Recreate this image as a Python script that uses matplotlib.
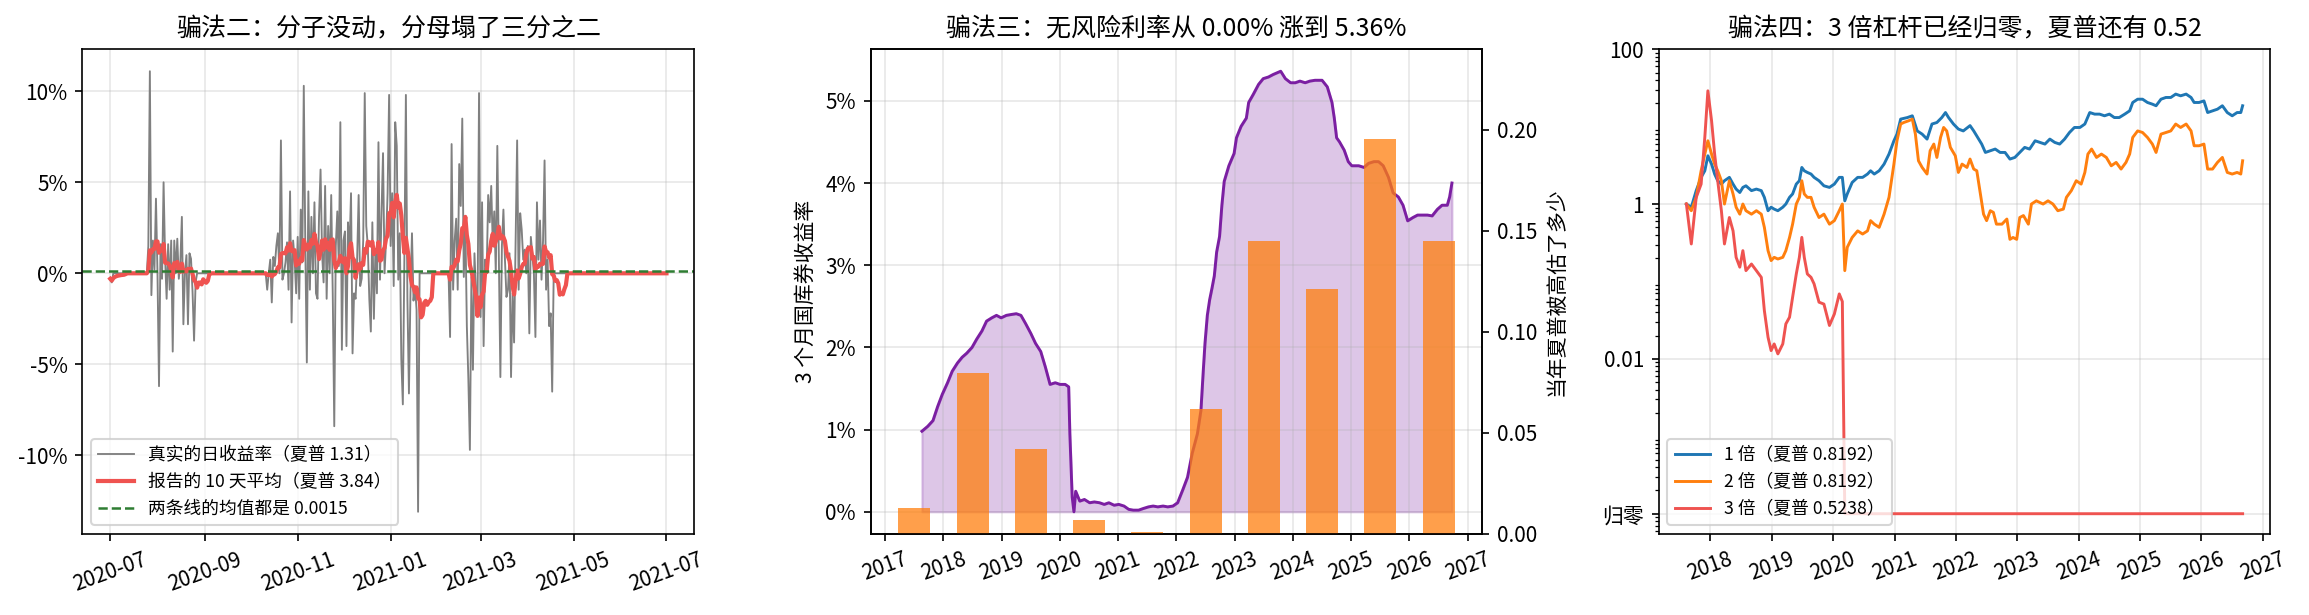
import matplotlib
matplotlib.use('Agg')
import matplotlib.pyplot as plt
import matplotlib.dates as mdates
import numpy as np
import pandas as pd
from matplotlib.ticker import FuncFormatter, MultipleLocator

plt.rcParams['font.family'] = ['Noto Sans CJK SC', 'DejaVu Sans']
plt.rcParams['axes.unicode_minus'] = False

# ---------- panel 1: daily returns (%), zero on idle days ----------
ret_first_day = '2020-07-01'
ret_last_day = '2021-07-01'
ret_start_blip = [-0.3, -0.5]
seg_a_start = '2020-07-26'
seg_a = [1.5, 11.1, -1.2, 1.8, 0.2, 4.1, 0.0, -6.2, 1.6, -0.3, 5.0, 0.8, -1.4, 1.6, -0.9, 1.8,
         -4.3, 1.8, 0.0, 1.9, -0.3, 0.6, 3.1, -2.8, 0.0, 1.0, -2.8, 1.1, 0.8, -1.0, -3.7, -0.5]
seg_b_start = '2020-10-12'
seg_b = [-0.9, 0.0, 0.75, -1.6, 0.9, 0.4, 1.5, 2.2, 0.0, 7.3, -0.35, 0.0, 0.6, 1.7, -0.9, 4.5,
         -2.7, 1.8, 0.75, -1.1, 2.0, -1.4, 3.5, 0.6, 10.3, 1.5, -4.9, 4.5, -0.9, 3.1, 0.0, 3.9,
         -1.1, -1.4, 3.1, 5.7, 1.1, -0.5, 4.8, -1.4, 2.6, 0.0, 4.3, -1.1, -8.4, 1.5, 3.4, 0.4,
         8.3, -4.2, 1.8, 2.3, -4.0, 2.8, 1.3, 4.4, -4.4, -1.1, -1.4, 0.75, 4.3, -0.7, -0.3, 1.8,
         9.9, 2.6, 1.5, -1.4, -3.2, 2.8, -2.5, 1.3, -1.1, 7.2, -0.35, 3.3, 6.6, 0.0, 1.8, 4.4,
         9.8, 1.5, 4.4, -0.7, 8.3, 7.0, -0.35, 2.2, -4.7, -7.2, 0.75, 9.8, -1.4, -6.6, -1.1, 2.2,
         -1.5, -0.7, -2.0, -13.1]
seg_c_start = '2021-02-09'
seg_c = [-3.5, 7.1, -0.9, 1.8, 3.0, -0.9, 6.0, 3.7, 8.5, -0.2, 2.9, -2.9, -5.8, -9.7, -0.2, -5.3,
         1.1, -1.1, -2.2, 9.9, -2.4, 3.9, -4.0, 0.75, 0.0, 4.3, 2.8, 4.8, 1.6, 3.4, 0.0, 7.0,
         0.9, -5.7, 1.5, 3.5, 0.75, -1.3, -0.9, 1.1, -5.7, -1.1, -3.8, 1.7, 7.3, -0.9, 3.3, 2.4,
         0.75, 1.3, 0.0, 1.5, -3.3, 2.0, 1.0, 0.0, -3.5, 3.9, 0.75, 2.9, -0.35, 1.8, 6.2, -0.9,
         0.75, -2.9, -2.2, -6.5]
mean_ret_pct = 0.15
smooth_window = 10

# ---------- panel 2: 3m T-bill yield (%) and yearly Sharpe overstatement ----------
tbill_year = [2017.63, 2017.73, 2017.82, 2017.90, 2017.98, 2018.07, 2018.15, 2018.24, 2018.32, 2018.40,
              2018.49, 2018.57, 2018.66, 2018.74, 2018.83, 2018.91, 2018.99, 2019.08, 2019.16, 2019.25,
              2019.33, 2019.41, 2019.50, 2019.58, 2019.67, 2019.75, 2019.83, 2019.92, 2020.00, 2020.09,
              2020.15, 2020.17, 2020.21, 2020.24, 2020.27, 2020.34, 2020.42, 2020.51, 2020.59, 2020.68,
              2020.76, 2020.84, 2020.93, 2021.01, 2021.10, 2021.18, 2021.26, 2021.35, 2021.43, 2021.52,
              2021.60, 2021.68, 2021.77, 2021.85, 2021.94, 2022.02, 2022.11, 2022.19, 2022.27, 2022.36,
              2022.42, 2022.46, 2022.49, 2022.53, 2022.57, 2022.61, 2022.65, 2022.69, 2022.74, 2022.78,
              2022.82, 2022.90, 2022.99, 2023.03, 2023.11, 2023.20, 2023.24, 2023.32, 2023.41, 2023.49,
              2023.58, 2023.66, 2023.79, 2023.87, 2023.96, 2024.04, 2024.12, 2024.21, 2024.29, 2024.38,
              2024.50, 2024.59, 2024.67, 2024.71, 2024.75, 2024.80, 2024.88, 2024.95, 2025.01, 2025.13,
              2025.22, 2025.30, 2025.39, 2025.47, 2025.55, 2025.64, 2025.72, 2025.81, 2025.89, 2025.97,
              2026.06, 2026.14, 2026.23, 2026.31, 2026.39, 2026.48, 2026.56, 2026.65, 2026.69, 2026.73]
tbill_pct = [0.98, 1.04, 1.11, 1.28, 1.43, 1.57, 1.71, 1.81, 1.88, 1.93,
             2.00, 2.10, 2.20, 2.32, 2.36, 2.39, 2.36, 2.39, 2.40, 2.41,
             2.39, 2.29, 2.17, 2.05, 1.95, 1.76, 1.55, 1.57, 1.55, 1.55,
             1.52, 0.95, 0.18, 0.00, 0.25, 0.13, 0.15, 0.11, 0.12, 0.11,
             0.09, 0.11, 0.08, 0.09, 0.07, 0.03, 0.02, 0.02, 0.04, 0.06,
             0.07, 0.06, 0.07, 0.06, 0.07, 0.11, 0.27, 0.42, 0.71, 0.95,
             1.23, 1.71, 2.05, 2.39, 2.58, 2.72, 2.87, 3.16, 3.35, 3.73,
             4.02, 4.21, 4.36, 4.55, 4.69, 4.79, 4.98, 5.08, 5.20, 5.27,
             5.29, 5.32, 5.36, 5.27, 5.22, 5.22, 5.24, 5.22, 5.24, 5.25,
             5.25, 5.17, 4.98, 4.79, 4.55, 4.50, 4.40, 4.26, 4.21, 4.21,
             4.19, 4.24, 4.26, 4.26, 4.21, 4.07, 3.88, 3.83, 3.73, 3.54,
             3.58, 3.61, 3.61, 3.61, 3.60, 3.68, 3.73, 3.73, 3.83, 4.00]
bar_years = [2017, 2018, 2019, 2020, 2021, 2022, 2023, 2024, 2025, 2026]
sharpe_overstated = [0.0126, 0.0795, 0.0418, 0.0070, 0.0008, 0.0620, 0.1448, 0.1213, 0.1955, 0.1448]

# ---------- panel 3: leveraged wealth (log scale) ----------
lev_year_a = [2017.61, 2017.69, 2017.77, 2017.85, 2017.91, 2017.96, 2018.02, 2018.07, 2018.12, 2018.18,
              2018.23, 2018.31, 2018.37, 2018.42, 2018.48, 2018.53, 2018.58, 2018.67, 2018.75, 2018.83,
              2018.88, 2018.94, 2018.99, 2019.04, 2019.10, 2019.18, 2019.23, 2019.29, 2019.34, 2019.40,
              2019.45, 2019.49, 2019.53, 2019.58, 2019.64, 2019.69, 2019.77, 2019.85, 2019.94, 2020.02,
              2020.10, 2020.15, 2020.19, 2020.23, 2020.31, 2020.40, 2020.48, 2020.56, 2020.61, 2020.67,
              2020.75, 2020.83, 2020.91, 2020.99, 2021.04]
lev1_a = [1.00, 0.91, 1.49, 2.21, 2.69, 4.2, 3.28, 2.44, 2.0, 1.81,
          2.0, 2.21, 1.81, 1.56, 1.41, 1.64, 1.72, 1.49, 1.56, 1.49,
          1.22, 0.82, 0.91, 0.86, 0.82, 0.91, 1.0, 1.22, 1.35, 1.81,
          2.0, 2.97, 2.69, 2.56, 2.44, 2.21, 2.0, 1.72, 1.64, 1.81,
          2.21, 2.21, 1.10, 1.35, 1.90, 2.21, 2.21, 2.44, 2.69, 2.44,
          2.69, 3.28, 4.42, 6.56, 8.0]
lev2_a = [1.0, 0.82, 1.22, 2.69, 4.42, 6.56, 4.42, 3.28, 2.69, 2.0,
          1.0, 2.0, 1.35, 0.91, 0.74, 1.0, 0.82, 0.74, 0.82, 0.74,
          0.50, 0.25, 0.186, 0.205, 0.195, 0.205, 0.25, 0.37, 0.55, 1.0,
          1.22, 2.0, 1.35, 1.22, 1.22, 0.91, 0.67, 0.74, 0.55, 0.61,
          0.82, 1.0, 0.138, 0.276, 0.37, 0.45, 0.41, 0.45, 0.61, 0.55,
          0.50, 0.74, 1.22, 3.28, 6.56]
lev3_a = [1.0, 0.305, 1.22, 1.81, 7.26, 29.0, 11.9, 4.42, 2.0, 0.82,
          0.305, 0.67, 0.45, 0.205, 0.153, 0.25, 0.138, 0.168, 0.138, 0.113,
          0.042, 0.019, 0.0128, 0.0156, 0.0116, 0.0156, 0.0283, 0.0345, 0.0625, 0.125,
          0.205, 0.371, 0.205, 0.125, 0.113, 0.093, 0.054, 0.051, 0.027, 0.038,
          0.069, 0.055]
lev1_year_b = [2021.10, 2021.21, 2021.29, 2021.37, 2021.45, 2021.53, 2021.61, 2021.69, 2021.77, 2021.83,
               2021.88, 2021.96, 2022.04, 2022.12, 2022.23, 2022.29, 2022.37, 2022.42, 2022.48, 2022.56,
               2022.64, 2022.72, 2022.80, 2022.88, 2022.96, 2023.04, 2023.12, 2023.20, 2023.29, 2023.37,
               2023.45, 2023.53, 2023.61, 2023.69, 2023.77, 2023.85, 2023.93, 2024.02, 2024.10, 2024.18,
               2024.26, 2024.34, 2024.42, 2024.50, 2024.58, 2024.66, 2024.75, 2024.83, 2024.88, 2024.96,
               2025.04, 2025.12, 2025.20, 2025.26, 2025.34, 2025.42, 2025.50, 2025.58, 2025.66, 2025.75,
               2025.83, 2025.88, 2025.96, 2026.04, 2026.10, 2026.18, 2026.26, 2026.34, 2026.42, 2026.50,
               2026.58, 2026.64, 2026.67]
lev1_b = [12.5, 13.1, 13.8, 8.8, 8.0, 6.9, 10.8, 11.3, 13.1, 15.2,
          13.1, 10.8, 9.3, 8.8, 10.3, 8.8, 6.9, 5.95, 4.64, 4.88,
          5.13, 4.64, 4.64, 3.81, 4.0, 4.64, 5.39, 5.13, 6.56, 6.25,
          5.95, 6.9, 6.25, 5.95, 6.9, 8.4, 9.75, 9.75, 10.8, 15.2,
          14.5, 14.5, 13.8, 14.5, 13.1, 13.1, 14.5, 16.0, 20.5, 22.6,
          22.6, 20.5, 19.5, 18.6, 22.6, 23.8, 23.8, 26.3, 25.0, 26.3,
          23.8, 20.5, 20.5, 21.5, 15.2, 16.0, 16.8, 18.6, 15.2, 13.8,
          15.2, 15.2, 18.6]
lev2_year_b = [2021.10, 2021.15, 2021.23, 2021.29, 2021.34, 2021.39, 2021.45, 2021.53, 2021.58, 2021.64,
               2021.69, 2021.75, 2021.80, 2021.85, 2021.91, 2021.99, 2022.04, 2022.10, 2022.18, 2022.23,
               2022.29, 2022.34, 2022.39, 2022.45, 2022.50, 2022.56, 2022.61, 2022.66, 2022.75, 2022.83,
               2022.88, 2022.93, 2022.99, 2023.04, 2023.10, 2023.18, 2023.23, 2023.31, 2023.42, 2023.50,
               2023.58, 2023.66, 2023.75, 2023.80, 2023.88, 2023.96, 2024.04, 2024.10, 2024.15, 2024.21,
               2024.29, 2024.37, 2024.45, 2024.53, 2024.61, 2024.69, 2024.77, 2024.83, 2024.88, 2024.96,
               2025.04, 2025.12, 2025.20, 2025.26, 2025.34, 2025.42, 2025.50, 2025.58, 2025.66, 2025.75,
               2025.83, 2025.88, 2025.96, 2026.04, 2026.10, 2026.18, 2026.26, 2026.34, 2026.42, 2026.50,
               2026.58, 2026.64, 2026.67]
lev2_b = [10.8, 11.3, 11.9, 12.5, 8.0, 3.62, 2.97, 2.44, 4.88, 5.95,
          4.0, 7.25, 9.75, 8.8, 5.39, 4.2, 2.56, 3.28, 2.97, 3.81,
          2.83, 2.69, 1.49, 0.74, 0.61, 0.82, 0.78, 0.55, 0.55, 0.64,
          0.35, 0.37, 0.35, 0.67, 0.71, 0.55, 1.0, 1.10, 1.0, 1.10,
          1.0, 0.82, 0.86, 1.22, 1.49, 2.0, 1.81, 2.56, 4.42, 5.13,
          4.0, 4.42, 4.0, 3.12, 3.45, 2.83, 3.45, 4.42, 7.25, 8.8,
          8.4, 7.25, 5.95, 4.64, 8.0, 8.4, 8.8, 10.8, 9.75, 10.8,
          8.8, 5.66, 5.66, 5.95, 2.83, 2.83, 3.45, 4.0, 2.56, 2.44,
          2.56, 2.44, 3.62]
wipeout_level = 1e-4
wipeout_year = 2020.19
lev_end_year = 2026.67

RED = '#ef5350'

fig, axes = plt.subplots(1, 3, figsize=(2309 / 150, 615 / 150), dpi=150)
fig.subplots_adjust(left=0.0357, right=0.9833, bottom=0.132, top=0.920, wspace=0.288)
ax1, ax2, ax3 = axes

# ---- panel 1
days = pd.date_range(ret_first_day, ret_last_day, freq='D')
ret = pd.Series(0.0, index=days)
ret.iloc[:len(ret_start_blip)] = ret_start_blip
for start, vals in [(seg_a_start, seg_a), (seg_b_start, seg_b), (seg_c_start, seg_c)]:
    i = ret.index.get_loc(pd.Timestamp(start))
    ret.iloc[i:i + len(vals)] = vals
smooth = ret.rolling(smooth_window, min_periods=1).mean()

ax1.plot(ret.index, ret.values, color='gray', lw=0.9, label='真实的日收益率（夏普 1.31）')
ax1.plot(smooth.index, smooth.values, color=RED, lw=2, label='报告的 10 天平均（夏普 3.84）')
ax1.axhline(mean_ret_pct, color='#2e7d32', ls='--', lw=1.2, label='两条线的均值都是 0.0015')
ax1.xaxis.set_major_locator(mdates.MonthLocator(bymonth=[1, 3, 5, 7, 9, 11]))
ax1.xaxis.set_major_formatter(mdates.DateFormatter('%Y-%m'))
ax1.yaxis.set_major_formatter(FuncFormatter(lambda v, p: f'{v:.0f}%'))
ax1.grid(True, alpha=0.3)
ax1.legend(loc='lower left', fontsize=8.5)
ax1.set_title('骗法二：分子没动，分母塌了三分之二', fontsize=12)

# ---- panel 2
ax2.fill_between(tbill_year, tbill_pct, 0, color='#7b1fa2', alpha=0.25)
ax2.plot(tbill_year, tbill_pct, color='#7b1fa2', lw=1.4)
ax2.yaxis.set_major_formatter(FuncFormatter(lambda v, p: f'{v:.0f}%'))
ax2.set_ylabel('3 个月国库券收益率', fontsize=10)
ax2.grid(True, alpha=0.3)
ax2b = ax2.twinx()
ax2b.bar(np.array(bar_years) + 0.5, sharpe_overstated, width=0.55, color='#ff7f0e', alpha=0.75)
ax2b.set_ylim(0, 0.24)
ax2b.set_ylabel('当年夏普被高估了多少', fontsize=10)
ax2.xaxis.set_major_locator(MultipleLocator(1))
ax2.xaxis.set_major_formatter(FuncFormatter(lambda v, p: f'{v:.0f}'))
ax2.set_title('骗法三：无风险利率从 0.00% 涨到 5.36%', fontsize=12)

# ---- panel 3
ax3.plot(lev_year_a + lev1_year_b, lev1_a + lev1_b, color='#1f77b4', lw=1.4, label='1 倍（夏普 0.8192）')
ax3.plot(lev_year_a + lev2_year_b, lev2_a + lev2_b, color='#ff7f0e', lw=1.4, label='2 倍（夏普 0.8192）')
red_year = lev_year_a[:len(lev3_a)] + [wipeout_year, lev_end_year]
red_val = lev3_a + [wipeout_level, wipeout_level]
ax3.plot(red_year, red_val, color=RED, lw=1.4, label='3 倍（夏普 0.5238）')
ax3.set_yscale('log')
ax3.set_ylim(5.5e-5, 100)
ax3.set_yticks([1e-4, 1e-2, 1, 100])
ax3.set_yticklabels(['归零', '0.01', '1', '100'])
ax3.xaxis.set_major_locator(MultipleLocator(1))
ax3.xaxis.set_major_formatter(FuncFormatter(lambda v, p: f'{v:.0f}'))
ax3.grid(True, alpha=0.3)
ax3.legend(loc='lower left', fontsize=8.5)
ax3.set_title('骗法四：3 倍杠杆已经归零，夏普还有 0.52', fontsize=12)

for ax in axes:
    ax.tick_params(axis='x', rotation=20)

fig.savefig('out.png', dpi=150)
